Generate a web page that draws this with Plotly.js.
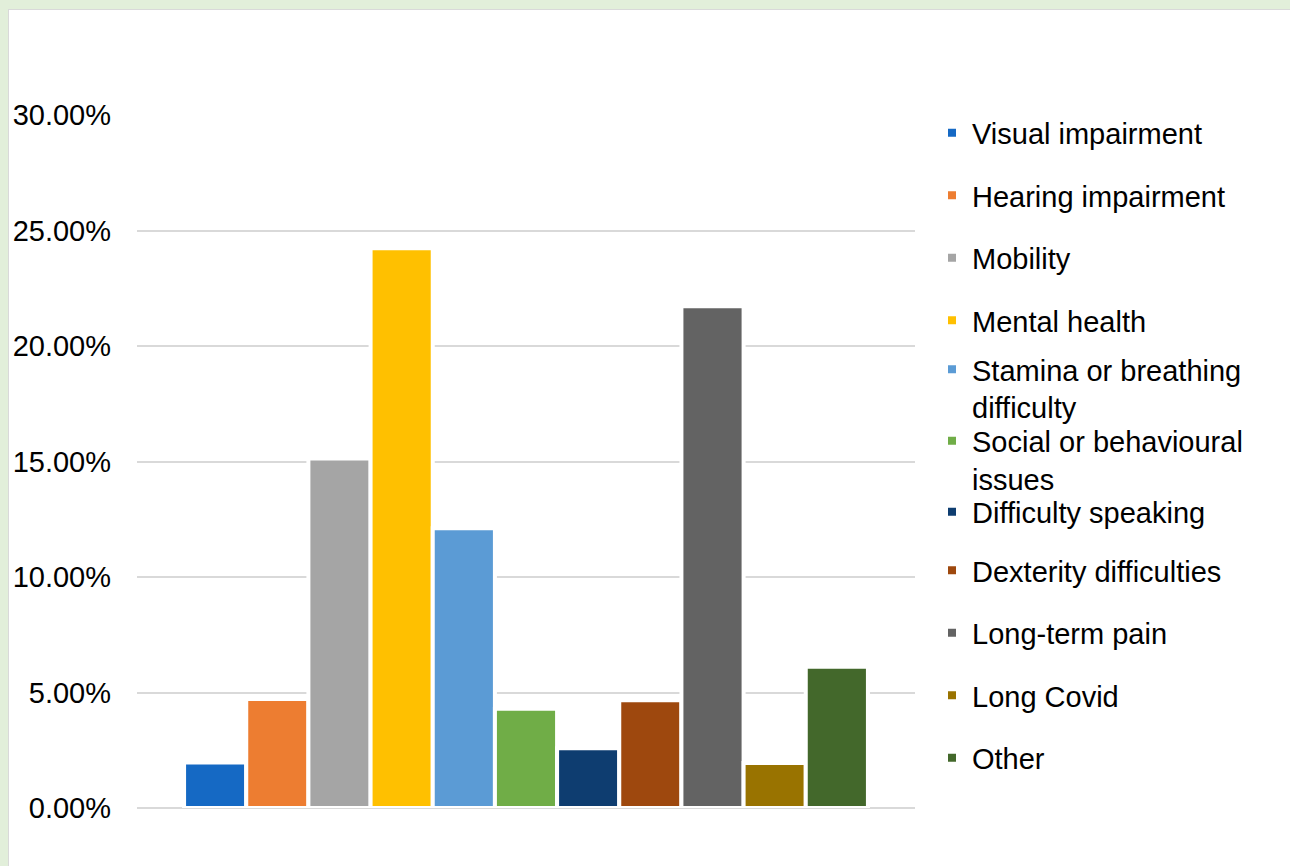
<!DOCTYPE html>
<html>
<head>
<meta charset="utf-8">
<script src="https://cdn.plot.ly/plotly-3.0.1.min.js"></script>
<style>
  html, body { margin: 0; padding: 0; background: #e2efda; }
  #panel {
    position: absolute; left: 8px; top: 9px;
    width: 1281px; height: 856px;
    background: #ffffff; border-left: 1px solid #d9d9d9; border-top: 1px solid #d9d9d9;
  }
  #chart { width: 1281px; height: 856px; }
</style>
</head>
<body>
<div id="panel"><div id="chart"></div></div>
<script>
// Share of respondents by type of impairment
const categories = [
  'Visual impairment', 'Hearing impairment', 'Mobility', 'Mental health',
  'Stamina or breathing difficulty', 'Social or behavioural issues',
  'Difficulty speaking', 'Dexterity difficulties', 'Long-term pain',
  'Long Covid', 'Other'
];
const legendLabels = [
  'Visual impairment', 'Hearing impairment', 'Mobility', 'Mental health',
  'Stamina or breathing<br>difficulty', 'Social or behavioural<br>issues',
  'Difficulty speaking', 'Dexterity difficulties', 'Long-term pain',
  'Long Covid', 'Other'
];
const shares = [0.0197, 0.0472, 0.1513, 0.2423, 0.1211, 0.0430,
                0.0259, 0.0466, 0.2172, 0.0195, 0.0612];
const colors = ['#1569c4', '#ed7d31', '#a5a5a5', '#ffc000', '#5b9bd5', '#70ad47',
                '#0e3d70', '#9e480e', '#636363', '#997300', '#43682b'];
const yTicks = [0, 0.05, 0.10, 0.15, 0.20, 0.25, 0.30];

const H = 856, W = 1281;
// vertical centre of the first text line of each legend row (px from chart top);
// the two-line rows get a little extra room so their lines stay clear of neighbours
const rowCentres = [122.5, 185, 247.5, 310, 359, 430.5, 501.5, 560, 622.5, 685, 747.5];

const traces = categories.map((c, i) => ({
  type: 'bar',
  name: legendLabels[i],
  x: [''],
  y: [shares[i]],
  marker: { color: colors[i], line: { color: '#ffffff', width: 4 } },
  legend: i === 0 ? 'legend' : 'legend' + (i + 1),
  showlegend: true,
  hoverinfo: 'skip'
}));

const layout = {
  width: W, height: H,
  showlegend: true,
  paper_bgcolor: '#ffffff', plot_bgcolor: '#ffffff',
  margin: { l: 128, r: 375, t: 105, b: 58 },
  font: { family: 'Liberation Sans, Arial, sans-serif', size: 29, color: '#000000' },
  barmode: 'group', bargap: 0.121, bargroupgap: 0,
  xaxis: { showticklabels: false, showgrid: false, zeroline: false, showline: false, fixedrange: true },
  yaxis: {
    range: [0, 0.30], tickvals: yTicks, tickformat: '.2%',
    showgrid: true, gridcolor: '#d9d9d9', gridwidth: 2,
    zeroline: true, zerolinecolor: '#d9d9d9', zerolinewidth: 2,
    showline: false, ticks: '', ticklabelstandoff: 25,
    tickfont: { size: 29, color: '#000000' }, fixedrange: true
  },
  hovermode: false
};

// one legend box per entry so each row can be placed on its own
categories.forEach((c, i) => {
  const key = i === 0 ? 'legend' : 'legend' + (i + 1);
  layout[key] = {
    visible: true,
    xref: 'container', yref: 'container',
    x: 923 / W, xanchor: 'left',
    y: 1 - (rowCentres[i] - 25) / H, yanchor: 'top',
    valign: 'top', bgcolor: 'rgba(0,0,0,0)', borderwidth: 0,
    font: { size: 29, color: '#000000' }
  };
});

Plotly.newPlot('chart', traces, layout, { displayModeBar: false, staticPlot: true });
</script>
</body>
</html>
